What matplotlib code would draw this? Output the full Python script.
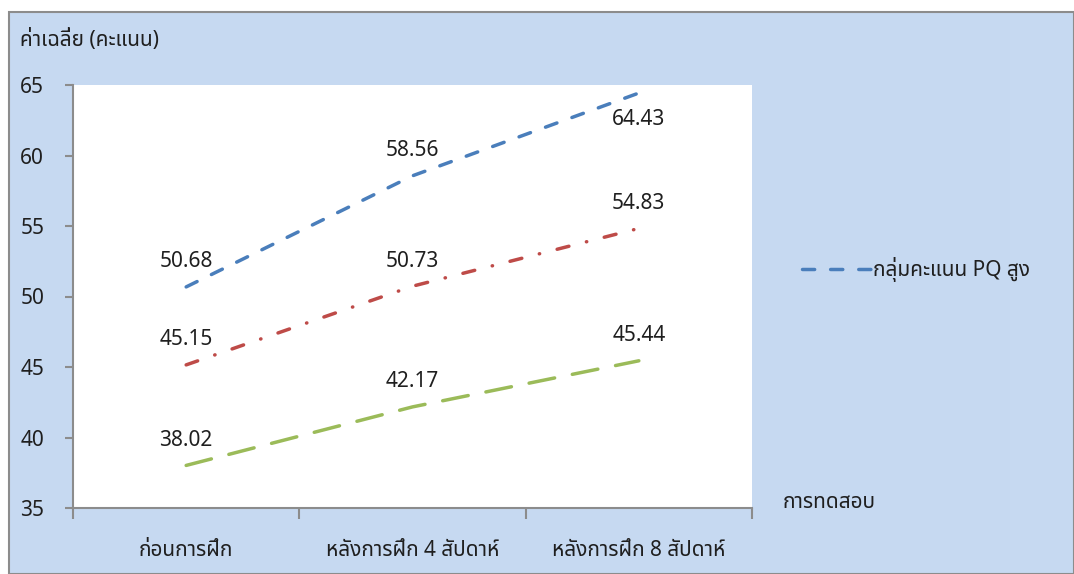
import matplotlib.pyplot as plt
from matplotlib.patches import Rectangle

plt.rcParams['font.family'] = ['Noto Sans', 'Noto Sans Thai', 'Anuphan', 'DejaVu Sans']

categories = ["ก่อนการฝึก", "หลังการฝึก 4 สัปดาห์", "หลังการฝึก 8 สัปดาห์"]
high = [50.68, 58.56, 64.43]
mid = [45.15, 50.73, 54.83]
low = [38.02, 42.17, 45.44]
legend_label = "กลุ่มคะแนน PQ สูง"

bg = '#C6D9F1'
txt = '#1F1F1F'
fs = 15
fig = plt.figure(figsize=(10.74, 5.74), dpi=100)
fig.patch.set_facecolor('white')
fig.patches.append(Rectangle((9/1074, 0), 1 - 9/1074, 1 - 12/574, transform=fig.transFigure,
                             facecolor=bg, edgecolor='#8C8C8C', linewidth=1.5, zorder=-1))
ax = fig.add_axes([73/1074, 1 - 508/574, (752 - 73)/1074, (508 - 85)/574])
ax.set_facecolor('white')

x = range(len(categories))
ax.plot(x, high, color='#4A7EBB', lw=2.5, dashes=(3.5, 4.6), dash_capstyle='round', label=legend_label)
ax.plot(x, mid, color='#BE4B48', lw=2.5, dashes=(3.5, 5.2, 0.1, 5.2), dash_capstyle='round')
ax.plot(x, low, color='#9BBB59', lw=2.5, dashes=(7.5, 5.2), dash_capstyle='round')

for series in (high, mid, low):
    for i, v in enumerate(series):
        off = -19 if v > 63 else 18
        ax.annotate(f"{v:.2f}", (i, v), xytext=(0, off), textcoords='offset points',
                    ha='center', va='center', fontsize=fs, color=txt)

ax.set_xlim(-0.5, 2.5)
ax.set_ylim(35, 65)
ax.set_yticks(range(35, 66, 5))
ax.set_xticks([-0.5, 0.5, 1.5, 2.5])
ax.set_xticklabels([])
ax.set_xticks(list(x), minor=True)
ax.set_xticklabels(categories, minor=True, fontsize=fs, color=txt)
ax.tick_params(axis='x', which='minor', length=0, pad=23)
ax.tick_params(axis='x', which='major', length=8, color='#8C8C8C', width=1.5)
ax.tick_params(axis='y', length=6, color='#8C8C8C', width=1.5, labelsize=fs, labelcolor=txt, pad=32)
for lab in ax.get_yticklabels():
    lab.set_horizontalalignment('left')
for s in ('top', 'right'):
    ax.spines[s].set_visible(False)
for s in ('left', 'bottom'):
    ax.spines[s].set_color('#8C8C8C')
    ax.spines[s].set_linewidth(1.5)

fig.text(20/1074, 1 - 40/574, "ค่าเฉลี่ย (คะแนน)", fontsize=fs, color=txt, va='center', ha='left')
fig.text(783/1074, 1 - 503/574, "การทดสอบ", fontsize=fs, color=txt, va='center', ha='left')

fig.legend(loc='center left', bbox_to_anchor=(783/1074, 1 - 270/574), frameon=False,
           fontsize=fs, handlelength=3.3, handletextpad=0.1, labelcolor=txt)

fig.savefig("out.png", dpi=100, facecolor=fig.get_facecolor())
